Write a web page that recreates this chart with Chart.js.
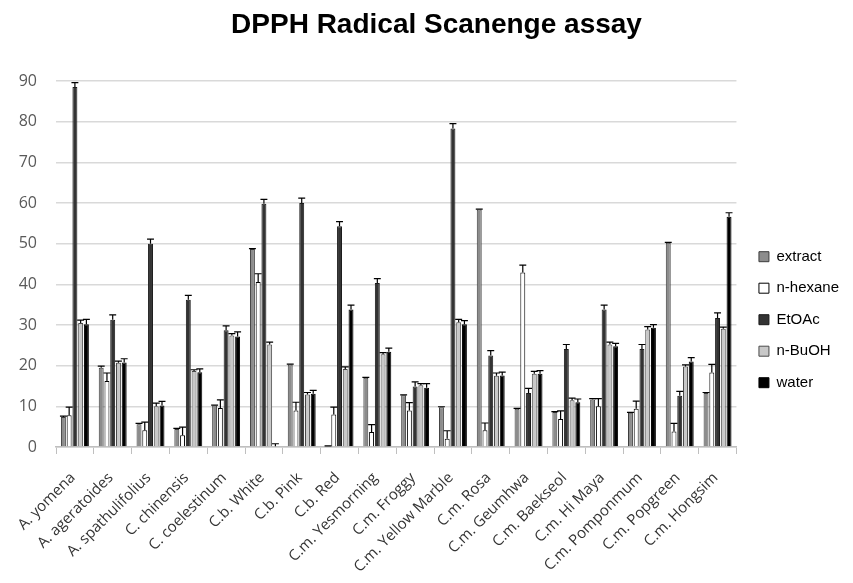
<!DOCTYPE html>
<html>
<head>
<meta charset="utf-8">
<script src="https://cdn.jsdelivr.net/npm/chart.js@4.4.0/dist/chart.umd.min.js"></script>
<style>
  body { margin: 0; background: #fff; }
</style>
</head>
<body>
<canvas id="myChart" width="853" height="583"></canvas>
<script>
const categories = ['A. yomena', 'A. ageratoides', 'A. spathulifolius', 'C. chinensis', 'C. coelestinum',
  'C.b. White', 'C.b. Pink', 'C.b. Red', 'C.m. Yesmorning', 'C.m. Froggy', 'C.m. Yellow Marble',
  'C.m. Rosa', 'C.m. Geumhwa', 'C.m. Baekseol', 'C.m. Hi Maya', 'C.m. Pomponmum', 'C.m. Popgreen', 'C.m. Hongsim'];

const extract = [7.4, 19.5, 5.6, 4.4, 10.2, 48.7, 20.3, 0.2, 17.0, 12.7, 9.8, 58.4, 9.4, 8.6, 11.7, 8.4, 50.2, 13.3];
const nHexane = [7.8, 16.2, 4.1, 2.9, 9.6, 40.6, 9.0, 8.0, 3.7, 9.0, 2.0, 4.1, 42.9, 6.9, 10.0, 9.4, 3.8, 18.3];
const etoac   = [88.5, 31.3, 50.0, 36.2, 28.7, 59.8, 60.0, 54.3, 40.3, 14.9, 78.3, 22.5, 13.3, 24.1, 33.8, 24.1, 12.6, 31.7];
const nBuOH   = [30.5, 20.7, 10.0, 18.7, 27.4, 25.2, 12.9, 19.2, 22.8, 15.2, 30.7, 17.5, 18.0, 11.5, 25.2, 28.9, 19.8, 29.1];
const water   = [30.2, 20.8, 10.2, 18.4, 27.2, 0.2, 13.1, 33.8, 23.4, 14.6, 30.2, 17.6, 18.0, 11.0, 24.8, 29.3, 21.0, 56.6];

const extractErr = [0.2, 0.4, 0.2, 0.2, 0.1, 0.1, 0.1, 0.1, 0.1, 0.1, 0.1, 0.1, 0.1, 0.1, 0.2, 0.1, 0.1, 0.1];
const nHexaneErr = [2.0, 2.0, 2.0, 2.0, 2.0, 2.0, 2.0, 1.8, 1.8, 1.9, 2.0, 1.8, 1.8, 2.0, 1.9, 1.9, 2.0, 2.0];
const etoacErr   = [1.1, 1.2, 1.1, 1.1, 1.1, 1.1, 1.2, 1.1, 1.1, 1.1, 1.2, 1.2, 1.1, 1.1, 1.1, 1.1, 1.1, 1.3];
const nBuOHErr   = [0.7, 0.4, 0.8, 0.3, 0.5, 0.6, 0.5, 0.5, 0.4, 0.4, 0.7, 0.7, 0.6, 0.5, 0.6, 0.7, 0.4, 0.4];
const waterErr   = [1.2, 0.9, 1.0, 0.8, 1.1, 0.6, 0.8, 1.1, 0.9, 1.0, 0.9, 0.8, 0.8, 0.8, 0.7, 0.8, 1.0, 1.0];

const yTicks = [0, 10, 20, 30, 40, 50, 60, 70, 80, 90];

// draws the upper error bars (Excel style "plus" bars)
const errorBars = {
  id: 'errorBars',
  afterDatasetsDraw(chart) {
    const ctx = chart.ctx;
    const yScale = chart.scales.y;
    chart.data.datasets.forEach((ds, i) => {
      const meta = chart.getDatasetMeta(i);
      if (meta.hidden) return;
      meta.data.forEach((bar, j) => {
        const err = ds.errors[j];
        const top = yScale.getPixelForValue(ds.data[j] + err);
        const half = bar.width / 2 + 1;
        ctx.save();
        ctx.strokeStyle = '#000';
        ctx.lineWidth = 1.2;
        ctx.beginPath();
        ctx.moveTo(bar.x, bar.y);
        ctx.lineTo(bar.x, top);
        ctx.moveTo(bar.x - half, top);
        ctx.lineTo(bar.x + half, top);
        ctx.stroke();
        ctx.restore();
      });
    });
  }
};

// nudge title and legend a bit to the right, like the excel layout
const nudge = {
  id: 'nudge',
  afterLayout(chart) {
    const t = chart.titleBlock;
    if (t) { t.left += 15; t.right += 15; }
    const l = chart.legend;
    if (l) { l.left += 6; l.right += 6; }
  }
};

const ctx = document.getElementById('myChart');

new Chart(ctx, {
  type: 'bar',
  data: {
    labels: categories,
    datasets: [
      { label: 'extract', data: extract, errors: extractErr, backgroundColor: '#8c8c8c', borderColor: '#3c3c3c', borderWidth: 1 },
      { label: 'n-hexane', data: nHexane, errors: nHexaneErr, backgroundColor: '#ffffff', borderColor: '#000000', borderWidth: 1 },
      { label: 'EtOAc', data: etoac, errors: etoacErr, backgroundColor: '#333333', borderColor: '#1a1a1a', borderWidth: 1 },
      { label: 'n-BuOH', data: nBuOH, errors: nBuOHErr, backgroundColor: '#c8c8c8', borderColor: '#4a4a4a', borderWidth: 1 },
      { label: 'water', data: water, errors: waterErr, backgroundColor: '#000000', borderColor: '#000000', borderWidth: 1 }
    ]
  },
  options: {
    responsive: false,
    animation: false,
    categoryPercentage: 0.76,
    barPercentage: 0.86,
    layout: { padding: { left: 0, right: 10, top: 4, bottom: 0 } },
    plugins: {
      title: {
        display: true,
        text: 'DPPH Radical Scanenge assay',
        font: { family: 'Liberation Sans', size: 28, weight: 'bold' },
        color: '#000',
        padding: { top: 4, bottom: 39.4 }
      },
      legend: {
        position: 'right',
        title: { display: true, text: ' ', font: { size: 12 }, padding: 19 },
        labels: {
          font: { family: 'Liberation Sans', size: 15 },
          color: '#000',
          boxWidth: 10,
          boxHeight: 10,
          padding: 16.5
        }
      },
      tooltip: { enabled: false }
    },
    scales: {
      x: {
        grid: { drawOnChartArea: false, color: '#bfbfbf', tickLength: 7, offset: true },
        border: { color: '#bfbfbf', width: 1.5 },
        ticks: {
          font: { family: 'Open Sans', size: 15 },
          color: '#333',
          minRotation: 45,
          maxRotation: 45,
          padding: 15,
          labelOffset: -2
        },
        afterFit(scale) { scale.height = 136; }
      },
      y: {
        min: 0,
        max: 90,
        afterBuildTicks(scale) { scale.ticks = yTicks.map(v => ({ value: v })); },
        grid: { color: '#d9d9d9', lineWidth: 1.5, drawTicks: false },
        border: { display: false },
        ticks: {
          font: { family: 'Open Sans', size: 16 },
          color: '#595959',
          padding: 19
        },
        afterFit(scale) { scale.width = 56; }
      }
    }
  },
  plugins: [errorBars, nudge]
});
</script>
</body>
</html>
